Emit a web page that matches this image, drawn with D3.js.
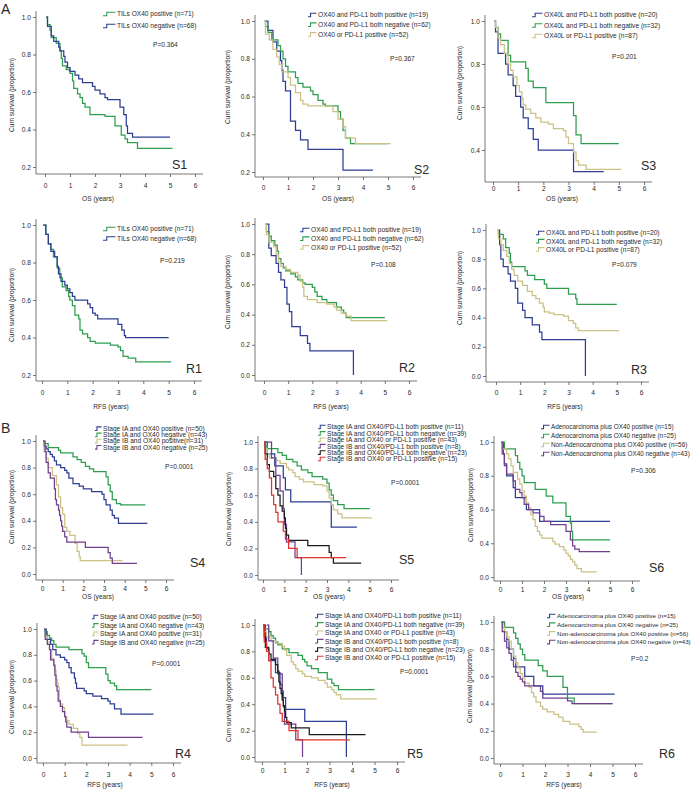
<!DOCTYPE html>
<html><head><meta charset="utf-8">
<script src="https://cdn.jsdelivr.net/npm/d3@7"></script>
<style>
body{margin:0;background:#fff}
svg{display:block}
text{font-family:"Liberation Sans",Arial,sans-serif;fill:#2a2a2a}
</style></head>
<body><svg id="c" width="696" height="789"></svg>
<script>
// ---------- DATA: [time (years), cumulative survival] step points ----------
const xTickValues = [0,1,2,3,4,5,6];
const yTicks02 = [0.2,0.4,0.6,0.8,1.0];
const yTicks04 = [0.4,0.6,0.8,1.0];
const yTicks00 = [0,0.2,0.4,0.6,0.8,1.0];
const s6YTickLabels = ["0.0","0.4","0.6","0.8","1.0"];

const s1Pos = [[0.05,1],[0.1,0.96],[0.2,0.93],[0.25,0.89],[0.45,0.86],[0.6,0.82],[0.65,0.78],[0.7,0.74],[0.85,0.72],[1.0,0.70],[1.1,0.66],[1.15,0.62],[1.3,0.59],[1.4,0.57],[1.5,0.54],[1.6,0.52],[1.8,0.48],[2.4,0.47],[2.8,0.42],[3.05,0.37],[3.2,0.35],[3.3,0.33],[3.7,0.30],[5.1,0.30]];
const s1Neg = [[0.05,1],[0.1,0.95],[0.25,0.9],[0.35,0.87],[0.55,0.84],[0.6,0.82],[0.75,0.79],[0.8,0.76],[0.9,0.73],[1.0,0.71],[1.2,0.69],[1.35,0.67],[1.5,0.65],[1.9,0.63],[2.0,0.61],[2.2,0.59],[2.4,0.57],[2.5,0.56],[3.0,0.52],[3.15,0.48],[3.25,0.42],[3.3,0.38],[3.5,0.36],[5.0,0.36]];

const s2Both = [[0.1,1],[0.2,0.95],[0.4,0.89],[0.55,0.84],[0.7,0.79],[0.75,0.74],[0.8,0.68],[0.9,0.63],[1.1,0.47],[1.3,0.42],[1.5,0.37],[1.8,0.32],[3.2,0.21],[4.4,0.21]];
const s2Neg = [[0.05,1],[0.1,0.97],[0.2,0.94],[0.35,0.9],[0.6,0.87],[0.7,0.84],[0.8,0.8],[0.9,0.76],[1.0,0.73],[1.3,0.7],[1.4,0.67],[1.6,0.65],[1.9,0.63],[2.0,0.61],[2.2,0.58],[2.4,0.56],[2.5,0.55],[3.0,0.52],[3.1,0.48],[3.2,0.42],[3.3,0.38],[3.5,0.35],[5.0,0.35]];
const s2Or = [[0.05,1],[0.1,0.93],[0.25,0.9],[0.4,0.85],[0.55,0.81],[0.65,0.77],[0.75,0.73],[1.0,0.7],[1.1,0.66],[1.3,0.62],[1.5,0.58],[1.6,0.56],[1.8,0.55],[2.8,0.52],[3.0,0.48],[3.2,0.44],[3.3,0.38],[3.7,0.35],[5.1,0.35]];

const s3Both = [[0.05,1],[0.1,0.95],[0.2,0.85],[0.5,0.8],[0.6,0.75],[0.8,0.7],[0.9,0.65],[1.1,0.6],[1.2,0.55],[1.4,0.5],[1.6,0.45],[1.8,0.4],[3.2,0.3],[4.4,0.3]];
const s3Neg = [[0.05,1],[0.1,0.97],[0.2,0.94],[0.3,0.91],[0.6,0.84],[0.7,0.81],[1.3,0.78],[1.4,0.72],[1.6,0.69],[2.1,0.62],[3.2,0.56],[3.3,0.47],[3.5,0.43],[5.0,0.43]];
const s3Or = [[0.05,1],[0.1,0.97],[0.2,0.92],[0.3,0.89],[0.45,0.85],[0.6,0.8],[0.7,0.77],[0.8,0.74],[0.95,0.7],[1.05,0.67],[1.15,0.64],[1.2,0.61],[1.3,0.59],[1.5,0.57],[1.7,0.55],[1.9,0.53],[2.2,0.52],[2.4,0.5],[2.8,0.49],[2.9,0.46],[3.0,0.43],[3.2,0.39],[3.3,0.35],[3.4,0.33],[3.7,0.31],[5.1,0.31]];

const r1Pos = [[0.05,1],[0.15,0.95],[0.25,0.9],[0.35,0.87],[0.45,0.83],[0.6,0.77],[0.7,0.72],[0.8,0.67],[0.95,0.65],[1.05,0.62],[1.1,0.6],[1.2,0.57],[1.3,0.52],[1.45,0.5],[1.5,0.44],[1.6,0.42],[1.8,0.4],[1.9,0.38],[2.1,0.37],[2.7,0.36],[3.0,0.35],[3.1,0.33],[3.2,0.3],[3.4,0.29],[3.7,0.27],[5.1,0.27]];
const r1Neg = [[0.05,1],[0.15,0.95],[0.25,0.9],[0.35,0.86],[0.5,0.83],[0.6,0.78],[0.65,0.74],[0.75,0.7],[0.9,0.68],[1.0,0.66],[1.1,0.64],[1.2,0.62],[1.3,0.6],[1.8,0.58],[1.9,0.56],[2.0,0.53],[2.1,0.52],[2.2,0.5],[3.0,0.47],[3.15,0.44],[3.25,0.41],[3.3,0.4],[5.0,0.4]];

const r2Both = [[0.1,1],[0.2,0.84],[0.3,0.79],[0.5,0.74],[0.6,0.68],[0.7,0.63],[0.85,0.58],[0.95,0.47],[1.05,0.42],[1.15,0.32],[1.5,0.26],[1.8,0.21],[1.9,0.16],[3.7,0]];
const r2Neg = [[0.05,1],[0.1,0.95],[0.2,0.92],[0.3,0.89],[0.45,0.86],[0.55,0.82],[0.6,0.77],[0.7,0.74],[0.8,0.71],[0.9,0.69],[1.1,0.67],[1.3,0.65],[1.4,0.63],[1.6,0.61],[1.7,0.6],[2.0,0.58],[2.1,0.55],[2.2,0.52],[2.4,0.5],[2.6,0.48],[3.0,0.45],[3.2,0.43],[3.3,0.41],[3.4,0.38],[5.0,0.38]];
const r2Or = [[0.05,1],[0.1,0.93],[0.2,0.88],[0.4,0.85],[0.5,0.8],[0.6,0.75],[0.7,0.72],[0.9,0.7],[1.1,0.68],[1.4,0.66],[1.5,0.62],[1.6,0.58],[1.65,0.52],[1.8,0.5],[2.2,0.48],[2.6,0.47],[2.9,0.45],[3.0,0.43],[3.2,0.41],[3.4,0.39],[3.6,0.36],[5.1,0.36]];

const r3Both = [[0.1,1],[0.15,0.9],[0.2,0.8],[0.3,0.75],[0.5,0.7],[0.6,0.65],[0.8,0.6],[0.9,0.5],[1.1,0.45],[1.2,0.4],[1.5,0.35],[1.8,0.3],[1.9,0.25],[3.7,0]];
const r3Neg = [[0.05,1],[0.1,0.97],[0.3,0.94],[0.4,0.88],[0.55,0.84],[0.6,0.78],[0.65,0.75],[1.2,0.72],[1.3,0.69],[1.6,0.66],[2.0,0.63],[2.1,0.6],[3.0,0.56],[3.3,0.53],[3.35,0.49],[5.0,0.49]];
const r3Or = [[0.05,1],[0.1,0.94],[0.2,0.9],[0.3,0.86],[0.45,0.82],[0.55,0.77],[0.65,0.73],[0.75,0.69],[0.9,0.65],[1.1,0.62],[1.3,0.58],[1.5,0.55],[1.65,0.53],[1.8,0.5],[1.95,0.47],[2.0,0.44],[2.2,0.43],[2.4,0.42],[2.8,0.41],[3.0,0.38],[3.2,0.36],[3.3,0.33],[3.4,0.31],[5.1,0.31]];

const s4IAPos = [[0.05,1],[0.1,0.96],[0.2,0.94],[0.3,0.92],[0.4,0.9],[0.5,0.88],[0.6,0.85],[0.7,0.82],[0.9,0.8],[1.1,0.78],[1.2,0.76],[1.3,0.72],[1.5,0.68],[1.8,0.66],[2.0,0.64],[2.4,0.62],[2.9,0.6],[3.0,0.56],[3.1,0.52],[3.3,0.48],[3.4,0.44],[3.5,0.42],[3.7,0.38],[5.1,0.38]];
const s4IANeg = [[0.05,1],[0.1,0.98],[0.3,0.95],[0.8,0.93],[0.9,0.91],[1.5,0.88],[1.7,0.86],[1.9,0.84],[2.1,0.81],[2.3,0.79],[2.5,0.77],[3.1,0.73],[3.2,0.67],[3.3,0.62],[3.4,0.56],[3.6,0.53],[3.8,0.52],[5.0,0.52]];
const s4IBPos = [[0.05,1],[0.1,0.92],[0.2,0.87],[0.3,0.8],[0.5,0.74],[0.7,0.67],[0.8,0.58],[0.9,0.5],[1.0,0.45],[1.1,0.35],[1.2,0.32],[1.35,0.29],[1.6,0.23],[1.7,0.17],[1.8,0.13],[1.85,0.1],[3.9,0.1]];
const s4IBNeg = [[0.05,1],[0.15,0.92],[0.2,0.84],[0.3,0.76],[0.4,0.72],[0.6,0.64],[0.65,0.56],[0.7,0.52],[0.8,0.48],[0.85,0.44],[0.9,0.4],[0.95,0.36],[1.0,0.32],[1.1,0.28],[1.2,0.24],[2.1,0.2],[3.2,0.16],[3.3,0.12],[3.4,0.08],[4.6,0.08]];

const s5IABoth = [[0.05,1],[0.2,0.91],[0.55,0.82],[0.95,0.73],[1.05,0.64],[1.3,0.55],[3.2,0.36],[4.4,0.36]];
const s5IANeg = [[0.05,1],[0.1,0.97],[0.2,0.95],[0.7,0.92],[0.9,0.9],[1.1,0.87],[1.4,0.85],[1.6,0.82],[1.8,0.79],[2.1,0.77],[2.3,0.74],[2.8,0.72],[3.0,0.69],[3.1,0.64],[3.2,0.6],[3.3,0.56],[3.5,0.53],[3.8,0.5],[5.0,0.5]];
const s5IAOr = [[0.05,1],[0.1,0.95],[0.2,0.91],[0.3,0.88],[0.6,0.86],[0.8,0.84],[1.1,0.81],[1.2,0.79],[1.4,0.77],[1.5,0.74],[1.7,0.72],[1.9,0.7],[2.4,0.68],[2.8,0.67],[3.0,0.63],[3.1,0.58],[3.2,0.53],[3.3,0.49],[3.5,0.46],[3.7,0.43],[5.1,0.43]];
const s5IBBoth = [[0.2,1],[0.4,0.88],[0.6,0.75],[0.8,0.63],[0.95,0.5],[1.0,0.38],[1.1,0.25],[1.5,0.13],[1.8,0]];
const s5IBNeg = [[0.05,1],[0.1,0.91],[0.2,0.83],[0.3,0.78],[0.5,0.74],[0.6,0.65],[0.7,0.6],[0.8,0.52],[0.9,0.48],[1.0,0.43],[1.05,0.35],[1.1,0.3],[1.2,0.26],[2.1,0.22],[3.1,0.17],[3.2,0.13],[3.3,0.09],[4.6,0.09]];
const s5IBOr = [[0.05,1],[0.1,0.87],[0.2,0.8],[0.3,0.73],[0.4,0.6],[0.5,0.53],[0.6,0.47],[0.7,0.4],[0.95,0.33],[1.05,0.27],[1.2,0.2],[1.6,0.13],[3.9,0.13]];

const s6AdPos = [[0.1,1],[0.15,0.93],[0.2,0.87],[0.3,0.8],[0.6,0.73],[0.7,0.67],[1.2,0.6],[1.8,0.53],[5.0,0.53]];
const s6AdNeg = [[0.1,1],[0.2,0.96],[0.7,0.92],[0.8,0.88],[0.9,0.84],[1.0,0.8],[1.1,0.76],[1.6,0.72],[2.1,0.68],[2.4,0.64],[3.0,0.56],[3.2,0.52],[3.25,0.47],[3.3,0.42],[5.0,0.42]];
const s6NonPos = [[0.05,1],[0.1,0.96],[0.3,0.93],[0.4,0.9],[0.5,0.86],[0.6,0.82],[0.8,0.78],[0.9,0.75],[1.0,0.71],[1.1,0.68],[1.2,0.64],[1.3,0.61],[1.4,0.57],[1.5,0.54],[1.6,0.5],[1.7,0.47],[1.8,0.45],[1.9,0.43],[2.4,0.41],[2.5,0.395],[2.7,0.38],[2.9,0.36],[3.0,0.34],[3.1,0.325],[3.2,0.305],[3.3,0.29],[3.4,0.27],[3.5,0.25],[3.7,0.23],[4.4,0.23]];
const s6NonNeg = [[0.05,1],[0.1,0.93],[0.2,0.86],[0.3,0.81],[0.6,0.77],[0.7,0.72],[0.9,0.7],[1.0,0.67],[1.1,0.63],[1.3,0.6],[1.5,0.58],[1.8,0.56],[2.0,0.53],[2.3,0.51],[3.0,0.47],[3.2,0.42],[3.3,0.385],[3.4,0.365],[3.6,0.35],[5.0,0.35]];

const r4IAPos = [[0.1,1],[0.15,0.96],[0.2,0.92],[0.35,0.88],[0.45,0.84],[0.6,0.8],[0.8,0.78],[1.0,0.76],[1.1,0.74],[1.2,0.7],[1.3,0.66],[1.45,0.62],[1.5,0.58],[1.55,0.54],[1.9,0.52],[2.0,0.5],[2.3,0.48],[2.7,0.46],[3.0,0.44],[3.1,0.42],[3.3,0.38],[3.6,0.34],[5.1,0.34]];
const r4IANeg = [[0.05,1],[0.1,0.98],[0.2,0.95],[0.3,0.93],[0.4,0.91],[0.5,0.88],[0.6,0.86],[1.2,0.84],[1.8,0.81],[1.9,0.79],[2.0,0.74],[2.1,0.7],[2.9,0.65],[3.0,0.6],[3.1,0.58],[3.3,0.56],[3.4,0.53],[5.0,0.53]];
const r4IBPos = [[0.05,1],[0.1,0.94],[0.2,0.9],[0.3,0.84],[0.4,0.77],[0.5,0.71],[0.55,0.68],[0.6,0.61],[0.65,0.58],[0.7,0.55],[0.75,0.45],[0.8,0.42],[0.9,0.39],[1.0,0.32],[1.1,0.29],[1.2,0.26],[1.4,0.23],[1.6,0.19],[1.7,0.16],[1.8,0.1],[3.9,0.1]];
const r4IBNeg = [[0.05,1],[0.1,0.92],[0.2,0.88],[0.3,0.84],[0.35,0.76],[0.5,0.72],[0.55,0.64],[0.6,0.56],[0.65,0.52],[0.7,0.44],[0.8,0.4],[0.9,0.36],[1.0,0.32],[1.05,0.28],[1.1,0.24],[1.3,0.2],[2.1,0.16],[4.6,0.16]];

const r5IABoth = [[0.1,1],[0.15,0.91],[0.2,0.82],[0.3,0.73],[0.6,0.64],[0.8,0.55],[0.9,0.45],[1.05,0.36],[1.9,0.27],[3.75,0]];
const r5IANeg = [[0.05,1],[0.1,0.97],[0.3,0.95],[0.4,0.92],[0.5,0.9],[0.6,0.87],[0.7,0.85],[0.9,0.82],[1.2,0.79],[1.6,0.77],[1.8,0.74],[1.9,0.72],[2.0,0.69],[2.2,0.67],[2.5,0.64],[2.9,0.59],[3.1,0.56],[3.2,0.54],[3.4,0.51],[5.0,0.51]];
const r5IAOr = [[0.05,1],[0.1,0.95],[0.2,0.91],[0.4,0.88],[0.6,0.86],[0.9,0.84],[1.0,0.81],[1.1,0.77],[1.3,0.72],[1.4,0.7],[1.5,0.67],[1.6,0.65],[1.8,0.63],[1.9,0.61],[2.2,0.6],[2.5,0.58],[2.8,0.56],[2.9,0.53],[3.1,0.51],[3.2,0.49],[3.3,0.47],[3.5,0.44],[5.1,0.44]];
const r5IBBoth = [[0.2,1],[0.3,0.88],[0.5,0.75],[0.7,0.63],[0.9,0.5],[0.95,0.38],[1.0,0.25],[1.5,0.13],[1.8,0]];
const r5IBNeg = [[0.05,1],[0.1,0.91],[0.15,0.83],[0.3,0.78],[0.4,0.74],[0.6,0.7],[0.7,0.65],[0.75,0.57],[0.8,0.52],[0.85,0.48],[0.9,0.43],[0.95,0.39],[1.0,0.35],[1.05,0.3],[1.1,0.26],[1.3,0.22],[2.1,0.17],[4.6,0.17]];
const r5IBOr = [[0.05,1],[0.1,0.87],[0.2,0.8],[0.3,0.73],[0.4,0.6],[0.5,0.53],[0.6,0.47],[0.7,0.4],[0.8,0.33],[0.9,0.27],[1.2,0.2],[1.6,0.13],[3.9,0.13]];

const r6AdPos = [[0.1,1],[0.2,0.93],[0.3,0.87],[0.4,0.8],[0.6,0.73],[0.7,0.67],[1.1,0.6],[1.5,0.53],[1.9,0.47],[5.1,0.47]];
const r6AdNeg = [[0.1,1],[0.2,0.96],[0.6,0.92],[0.7,0.88],[0.8,0.84],[0.9,0.8],[1.0,0.76],[1.1,0.72],[1.7,0.68],[1.9,0.64],[2.1,0.6],[2.8,0.52],[3.0,0.44],[3.3,0.4],[5.0,0.4]];
const r6NonPos = [[0.05,1],[0.1,0.96],[0.2,0.93],[0.3,0.89],[0.4,0.86],[0.5,0.8],[0.6,0.75],[0.7,0.7],[0.8,0.66],[0.9,0.62],[1.0,0.59],[1.1,0.55],[1.3,0.52],[1.4,0.48],[1.5,0.45],[1.6,0.41],[1.8,0.38],[1.9,0.36],[2.1,0.34],[2.4,0.32],[2.6,0.3],[2.8,0.27],[3.1,0.25],[3.5,0.23],[3.6,0.21],[3.7,0.19],[4.3,0.19]];
const r6NonNeg = [[0.05,1],[0.1,0.93],[0.2,0.86],[0.3,0.81],[0.4,0.77],[0.5,0.72],[0.6,0.67],[0.7,0.63],[0.8,0.6],[0.9,0.58],[1.0,0.56],[1.1,0.53],[1.8,0.49],[1.9,0.44],[3.0,0.42],[3.2,0.4],[5.0,0.4]];

// legend labels
const legTILs = ["TILs OX40 positive (n=71)","TILs OX40 negative (n=68)"];
const legOX40PD = ["OX40 and PD-L1 both positive (n=19)","OX40 and PD-L1 both negative (n=62)","OX40 or PD-L1 positive (n=52)"];
const legOX40LPD = ["OX40L and PD-L1 both positive (n=20)","OX40L and PD-L1 both negative (n=32)","OX40L or PD-L1 positive (n=87)"];
const legS4 = ["Stage IA and OX40 positive (n=50)","Stage IA and OX40 negative (n=43)","Stage IB and OX40 positive(n=31)","Stage IB and OX40 negative (n=25)"];
const legR4 = ["Stage IA and OX40 positive (n=50)","Stage IA and OX40 negative (n=43)","Stage IA and OX40 positive (n=31)","Stage IB and OX40 negative (n=25)"];
const legStage6 = ["Stage IA and OX40/PD-L1 both positive (n=11)","Stage IA and OX40/PD-L1 both negative (n=39)","Stage IA and OX40 or PD-L1 positive (n=43)","Stage IB and OX40/PD-L1 both positive (n=8)","Stage IB and OX40/PD-L1 both negative (n=23)","Stage IB and OX40 or PD-L1 positive (n=15)"];
const legS6 = ["Adenocarcinoma plus OX40 positive (n=15)","Adenocarcinoma plus OX40 negative (n=25)","Non-Adenocarcinoma plus OX40 positive (n=56)","Non-Adenocarcinoma plus OX40 negative (n=43)"];
const legR6 = ["Adenocarcinoma plus OX40 positive (n=15)","Adenocarcinoma plus OX40 negative (n=25)","Non-adenocarcinoma plus OX40 positive (n=56)","Non-adenocarcinoma plus OX40 negative (n=43)"];
const pValues = ["P=0.364","P=0.367","P=0.201","P=0.219","P=0.108","P=0.079","P=0.0001","P=0.0001","P=0.306","P=0.0001","P=0.0001","P=0.2"];
const panelTags = ["S1","S2","S3","R1","R2","R3","S4","S5","S6","R4","R5","R6"];

// ---------- STYLE / LAYOUT ----------
const C = {green:'#2e9e4e', blue:'#2e3f93', tan:'#cbc184', purple:'#6f3f8e', black:'#1c1c1c', red:'#e2332c'};
const FS = 6.6;
const svg = d3.select('#c');

const panels = [
 {x0:45,x6:195,yd:[1,0.2],yr:[17,167],ax:36,ay:174,lbl:186,yt:yTicks02,ytl:[12,95],xt:"OS (years)",xtp:[98,199],lg:[103,117,14,12],pp:[153,45],tg:[172,165],
  curves:[[s1Pos,C.green],[s1Neg,C.blue]],leg:legTILs},
 {x0:263,x6:413,yd:[1,0.2],yr:[21,172],ax:255,ay:177,lbl:188,yt:yTicks02,ytl:[228,87],xt:"OS (years)",xtp:[338,199],lg:[308,318,15,9.7],pp:[390,59],tg:[414,170],
  curves:[[s2Both,C.blue],[s2Neg,C.green],[s2Or,C.tan]],leg:legOX40PD},
 {x0:493,x6:644,yd:[1,0.4],yr:[21,150],ax:485,ay:182,lbl:189,yt:yTicks04,ytl:[460,83],xt:"OS (years)",xtp:[562,199],lg:[532,544,15,10.5],pp:[612,57],tg:[641,166],
  curves:[[s3Both,C.blue],[s3Neg,C.green],[s3Or,C.tan]],leg:legOX40LPD},
 {x0:42,x6:194,yd:[1,0.2],yr:[225,375],ax:36,ay:381,lbl:393,yt:yTicks02,ytl:[12,305],xt:"RFS (years)",xtp:[111,407],lg:[103,117,229,9.5],pp:[160,261],tg:[186,369],
  curves:[[r1Pos,C.green],[r1Neg,C.blue]],leg:legTILs},
 {x0:264,x6:409,yd:[1,0],yr:[224,375],ax:255,ay:381,lbl:393,yt:yTicks00,ytl:[228,292],xt:"RFS (years)",xtp:[331,407],lg:[300,311,230,8.7],pp:[371,265],tg:[399,368],
  curves:[[r2Both,C.blue],[r2Neg,C.green],[r2Or,C.tan]],leg:legOX40PD},
 {x0:496,x6:641,yd:[1,0],yr:[230,376],ax:486,ay:382,lbl:393,yt:yTicks00,ytl:[460,288],xt:"RFS (years)",xtp:[565,407],lg:[536,546,233,8.2],pp:[612,265],tg:[631,370],
  curves:[[r3Both,C.blue],[r3Neg,C.green],[r3Or,C.tan]],leg:legOX40LPD},
 {x0:42,x6:166,yd:[1,0],yr:[441,574],ax:36,ay:580,lbl:589,yt:yTicks00,ytl:[12,507],xt:"OS (years)",xtp:[98,597],lg:[95,103,428.7,6.2],pp:[165,467],tg:[190,563],
  curves:[[s4IAPos,C.blue],[s4IANeg,C.green],[s4IBPos,C.tan],[s4IBNeg,C.purple]],leg:legS4},
 {x0:263,x6:391,yd:[1,0],yr:[442,575],ax:258,ay:580,lbl:590,yt:yTicks00,ytl:[229,509],xt:"OS (years)",xtp:[329,597],lg:[318,327,427,6.4],pp:[391,483],tg:[399,560],
  curves:[[s5IABoth,C.blue],[s5IANeg,C.green],[s5IAOr,C.tan],[s5IBBoth,C.purple],[s5IBNeg,C.black],[s5IBOr,C.red]],leg:legStage6},
 {x0:500,x6:632,yd:[1,0.2],yr:[442,577],ax:494,ay:581,lbl:590,yt:yTicks02,ytlab:s6YTickLabels,ytl:[471,505],xt:"OS (years)",xtp:[568,597],lg:[541,551,427,9],lf:6.35,pp:[631,471],tg:[649,568],
  curves:[[s6AdPos,C.blue],[s6AdNeg,C.green],[s6NonPos,C.tan],[s6NonNeg,C.purple]],leg:legS6},
 {x0:43,x6:173,yd:[1,0],yr:[629,758],ax:37,ay:763,lbl:775,yt:yTicks00,ytl:[12,697],xt:"RFS (years)",xtp:[105,785],lg:[92,100,617,8.4],pp:[152,664],tg:[175,754],
  curves:[[r4IAPos,C.blue],[r4IANeg,C.green],[r4IBPos,C.tan],[r4IBNeg,C.purple]],leg:legR4},
 {x0:262,x6:397,yd:[1,0],yr:[625,757],ax:255,ay:762,lbl:771,yt:yTicks00,ytl:[229,705],xt:"RFS (years)",xtp:[332,785],lg:[315,325,616,8.4],pp:[400,672],tg:[407,754],
  curves:[[r5IABoth,C.blue],[r5IANeg,C.green],[r5IAOr,C.tan],[r5IBBoth,C.purple],[r5IBNeg,C.black],[r5IBOr,C.red]],leg:legStage6},
 {x0:500,x6:635,yd:[1,0],yr:[622,758],ax:494,ay:764,lbl:775,yt:yTicks00,ytl:[470,686],xt:"RFS (years)",xtp:[564,785],lg:[547,557,616,8.7],lf:6.15,pp:[631,659],tg:[659,754],
  curves:[[r6AdPos,C.blue],[r6AdNeg,C.green],[r6NonPos,C.tan],[r6NonNeg,C.purple]],leg:legR6}
];

function styleAxis(a){
  a.select('.domain').remove();
  a.attr('font-size',FS).attr('font-family','"Liberation Sans",Arial,sans-serif');
  a.selectAll('line').attr('stroke','#555').attr('stroke-width',0.8);
  a.selectAll('text').attr('fill','#2a2a2a');
}

panels.forEach((p,i)=>{
  const g = svg.append('g');
  const x = d3.scaleLinear().domain([0,6]).range([p.x0,p.x6]);
  const y = d3.scaleLinear().domain(p.yd).range(p.yr);
  // axis lines
  g.append('line').attr('x1',p.ax).attr('x2',p.ax).attr('y1',y(1)-6).attr('y2',p.ay)
    .attr('stroke','#555').attr('stroke-width',0.8);
  g.append('line').attr('x1',p.ax).attr('x2',x(6)+8).attr('y1',p.ay).attr('y2',p.ay)
    .attr('stroke','#555').attr('stroke-width',0.8);
  const yAxis = d3.axisLeft(y).tickValues(p.yt).tickSize(3).tickPadding(2)
    .tickFormat((d,k)=> p.ytlab ? p.ytlab[k] : d3.format('.1f')(d));
  g.append('g').attr('transform',`translate(${p.ax},0)`).call(yAxis).call(styleAxis);
  const xAxis = d3.axisBottom(x).tickValues(xTickValues).tickSize(3)
    .tickPadding(Math.max(1,p.lbl-p.ay-3-2.3)).tickFormat(d3.format('d'));
  g.append('g').attr('transform',`translate(0,${p.ay})`).call(xAxis).call(styleAxis);
  // axis titles
  g.append('text').attr('transform',`translate(${p.ytl[0]},${p.ytl[1]}) rotate(-90)`)
    .attr('text-anchor','middle').attr('dy','0.35em').attr('font-size',FS).text('Cum survival (proportion)');
  g.append('text').attr('x',p.xtp[0]).attr('y',p.xtp[1]).attr('text-anchor','middle').attr('dy','0.35em')
    .attr('font-size',FS).text(p.xt);
  // curves
  const line = d3.line().x(d=>x(d[0])).y(d=>y(d[1])).curve(d3.curveStepAfter);
  p.curves.forEach(([data,col])=>{
    g.append('path').attr('d',line(data)).attr('fill','none').attr('stroke',col)
      .attr('stroke-width',1.25).attr('stroke-linejoin','miter');
  });
  // legend
  const [sx,tx,y0,dy] = p.lg;
  const lf = p.lf || FS;
  p.leg.forEach((lab,k)=>{
    const yy = y0 + k*dy;
    const col = p.curves[k][1];
    const w = tx - sx - 1.5;
    g.append('path').attr('d',`M${sx},${yy+1.8}H${sx+w*0.3}V${yy-1.8}H${sx+w}`)
      .attr('fill','none').attr('stroke',col).attr('stroke-width',1.1);
    g.append('text').attr('x',tx).attr('y',yy).attr('dy','0.35em').attr('font-size',lf).text(lab);
  });
  // p value & tag
  g.append('text').attr('x',p.pp[0]).attr('y',p.pp[1]).attr('dy','0.35em').attr('font-size',FS).text(pValues[i]);
  g.append('text').attr('x',p.tg[0]).attr('y',p.tg[1]).attr('dy','0.35em').attr('font-size',12.5).text(panelTags[i]);
});

svg.append('text').attr('x',1).attr('y',9).attr('dy','0.35em').attr('font-size',14).text('A');
svg.append('text').attr('x',1).attr('y',428).attr('dy','0.35em').attr('font-size',14).text('B');
</script></body></html>
